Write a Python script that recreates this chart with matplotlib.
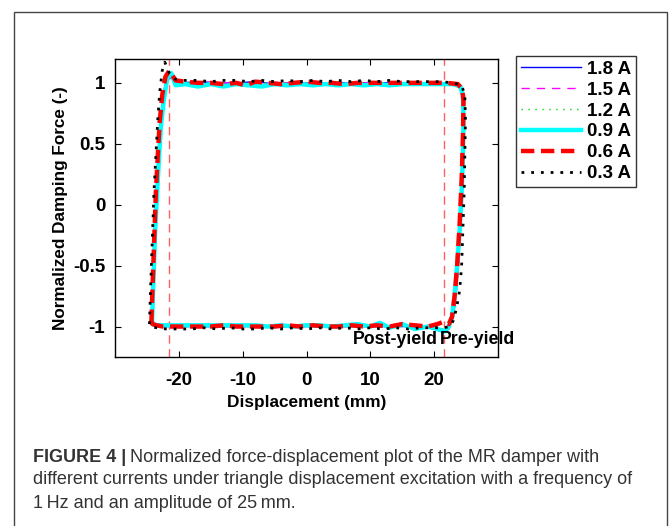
import matplotlib
matplotlib.use("Agg")
import matplotlib.pyplot as plt
from matplotlib.patches import Rectangle

plt.rcParams['font.family'] = ['Liberation Sans', 'DejaVu Sans']
plt.rcParams['axes.unicode_minus'] = False

# ---- data ----
labels = ["1.8 A", "1.5 A", "1.2 A", "0.9 A", "0.6 A", "0.3 A"]

x_18 = [-24.3, -24.2, -24.0, -23.8, -23.5, -23.2, -22.9, -22.4, -21.8, -21.0, -19.5, -17, -14, -11, -8, -5, -2, 1, 4, 7, 10, 13, 16, 19, 21, 23, 24.1, 24.6, 24.6, 24.4, 24.2, 23.9, 23.5, 23.0, 22.3, 21.5, 20.0, 18, 15, 12, 9, 6, 3, 0, -3, -6, -9, -12, -15, -18, -21, -23, -24.0, -24.3]
y_18 = [-0.97, -0.8, -0.5, -0.2, 0.1, 0.4, 0.7, 0.92, 1.06, 1.03, 1.0, 1.01, 1.0, 1.0, 1.01, 0.99, 1.0, 1.0, 1.0, 1.0, 1.0, 1.0, 1.0, 1.0, 1.0, 0.99, 0.97, 0.9, 0.6, 0.2, -0.1, -0.4, -0.7, -0.92, -1.02, -1.05, -1.02, -1.0, -1.0, -1.0, -1.0, -1.0, -1.0, -1.0, -1.0, -1.0, -1.0, -1.0, -1.0, -1.0, -1.0, -1.0, -0.99, -0.97]

x_15 = [-24.3, -24.2, -24.0, -23.8, -23.5, -23.2, -22.9, -22.4, -21.8, -21.0, -19.5, -17, -14, -11, -8, -5, -2, 1, 4, 7, 10, 13, 16, 19, 21, 23, 24.1, 24.6, 24.6, 24.4, 24.2, 23.9, 23.5, 23.0, 22.3, 21.5, 20.0, 18, 15, 12, 9, 6, 3, 0, -3, -6, -9, -12, -15, -18, -21, -23, -24.0, -24.3]
y_15 = [-0.97, -0.8, -0.5, -0.2, 0.1, 0.4, 0.7, 0.92, 1.06, 1.02, 1.0, 1.0, 1.01, 0.99, 1.0, 1.0, 1.0, 1.0, 1.0, 1.0, 1.0, 1.0, 1.0, 1.0, 1.0, 0.99, 0.97, 0.9, 0.6, 0.2, -0.1, -0.4, -0.7, -0.92, -1.0, -1.03, -1.01, -1.0, -0.99, -1.0, -1.0, -1.0, -1.0, -1.0, -1.0, -1.0, -1.0, -1.0, -1.0, -1.0, -1.0, -1.0, -0.99, -0.97]

x_12 = [-24.3, -24.2, -24.0, -23.8, -23.5, -23.2, -22.9, -22.4, -21.8, -21.0, -19.5, -17, -14, -11, -8, -5, -2, 1, 4, 7, 10, 13, 16, 19, 21, 23, 24.1, 24.6, 24.6, 24.4, 24.2, 23.9, 23.5, 23.0, 22.3, 21.5, 20.0, 18, 15, 12, 9, 6, 3, 0, -3, -6, -9, -12, -15, -18, -21, -23, -24.0, -24.3]
y_12 = [-0.97, -0.8, -0.5, -0.2, 0.1, 0.4, 0.7, 0.92, 1.06, 1.03, 1.0, 1.0, 1.0, 1.0, 1.0, 1.0, 1.0, 1.0, 1.0, 1.0, 1.0, 1.0, 1.0, 1.0, 1.0, 0.99, 0.97, 0.9, 0.6, 0.2, -0.1, -0.4, -0.7, -0.92, -1.0, -1.02, -1.0, -1.0, -1.0, -1.0, -1.0, -1.0, -1.0, -1.0, -1.0, -1.0, -1.0, -1.0, -1.0, -1.0, -1.0, -1.0, -0.99, -0.97]

x_09 = [-24.2, -24.1, -23.9, -23.7, -23.4, -23.1, -22.8, -22.3, -21.8, -21.2, -20.5, -19, -17, -15, -13, -11, -9, -7, -5, -3, -1, 1, 3, 5, 7, 9, 11, 13, 15, 17, 19, 21, 23, 24.1, 24.5, 24.6, 24.5, 24.3, 24.0, 23.6, 23.2, 22.8, 22.3, 21.6, 20.5, 19, 17, 15, 13, 11.5, 10, 8, 6, 4, 2, 0, -2, -4, -6, -8, -10, -12, -14, -16, -18, -20, -22, -23.4, -24.1, -24.2]
y_09 = [-0.96, -0.8, -0.5, -0.2, 0.1, 0.4, 0.65, 0.88, 1.04, 1.08, 0.98, 0.99, 0.97, 0.99, 0.97, 0.99, 0.98, 0.97, 0.99, 0.98, 0.99, 0.98, 0.99, 0.98, 0.99, 0.98, 0.99, 0.98, 0.99, 0.99, 0.99, 0.99, 0.99, 0.97, 0.9, 0.7, 0.4, 0.1, -0.2, -0.5, -0.75, -0.92, -1.0, -1.04, -1.02, -1.0, -1.02, -0.98, -1.01, -0.97, -1.0, -0.98, -0.99, -1.0, -0.99, -0.99, -1.0, -0.99, -1.0, -0.99, -0.99, -0.99, -0.99, -0.99, -0.99, -0.99, -0.99, -0.99, -0.98, -0.96]

x_06 = [-24.3, -24.2, -24.0, -23.8, -23.6, -23.3, -23.0, -22.6, -22.1, -21.5, -20.5, -19, -17, -15, -13, -11, -9.5, -8, -6, -4, -2, 0, 2, 4, 6, 8, 10, 12, 14, 16, 18, 20, 22, 23.7, 24.4, 24.6, 24.5, 24.3, 24.0, 23.6, 23.2, 22.8, 22.3, 21.5, 20.5, 19, 17, 15, 13, 11, 9, 7, 5, 3, 1, -1, -3, -5, -7, -9, -11, -13, -15, -17, -19, -21, -22.5, -23.5, -24.1, -24.3]
y_06 = [-0.97, -0.8, -0.5, -0.2, 0.1, 0.4, 0.68, 0.9, 1.05, 1.1, 1.02, 1.01, 1.0, 1.0, 0.99, 1.0, 0.98, 1.01, 1.0, 0.99, 1.0, 1.01, 1.0, 1.0, 0.99, 1.0, 1.0, 1.0, 1.0, 1.0, 1.0, 1.0, 1.0, 0.99, 0.95, 0.85, 0.55, 0.2, -0.15, -0.5, -0.75, -0.92, -0.98, -0.96, -0.98, -1.0, -0.99, -0.98, -1.0, -0.99, -1.0, -0.99, -1.0, -1.0, -0.99, -1.0, -0.99, -1.0, -1.0, -1.0, -1.0, -0.99, -1.0, -1.0, -1.0, -1.0, -1.0, -0.99, -0.98, -0.97]

x_03 = [-24.6, -24.5, -24.3, -24.1, -23.9, -23.6, -23.3, -23.0, -22.6, -22.2, -21.5, -20.5, -19, -17, -15, -13, -11, -9, -7, -5, -3, -1, 1, 3, 5, 7, 9, 11, 13, 15, 17, 19, 21, 23, 24.3, 24.8, 24.9, 24.8, 24.7, 24.5, 24.3, 24.0, 23.5, 23.0, 22.5, 21.5, 20, 18, 16, 14, 12, 10, 8, 6, 4, 2, 0, -2, -4, -6, -8, -10, -12, -14, -16, -18, -20, -22, -23.5, -24.3, -24.6]
y_03 = [-0.98, -0.8, -0.5, -0.2, 0.1, 0.4, 0.7, 0.92, 1.1, 1.17, 1.08, 1.03, 1.02, 1.02, 1.01, 1.02, 1.02, 1.01, 1.02, 1.01, 1.02, 1.01, 1.02, 1.01, 1.02, 1.01, 1.02, 1.01, 1.02, 1.01, 1.01, 1.01, 1.01, 1.0, 0.98, 0.9, 0.7, 0.4, 0.1, -0.2, -0.5, -0.7, -0.85, -0.95, -1.0, -1.01, -1.01, -1.01, -1.02, -1.01, -1.02, -1.01, -1.02, -1.01, -1.02, -1.01, -1.02, -1.01, -1.02, -1.01, -1.02, -1.02, -1.01, -1.02, -1.01, -1.02, -1.02, -1.02, -1.01, -1.0, -0.98]

yield_lines = [-21.5, 21.5]
xticks = [-20, -10, 0, 10, 20]
yticks = [-1, -0.5, 0, 0.5, 1]
ytick_labels = ["-1", "-0.5", "0", "0.5", "1"]

series = [(x_18, y_18), (x_15, y_15), (x_12, y_12), (x_09, y_09), (x_06, y_06), (x_03, y_03)]
styles = [
    dict(color="#0000ff", ls="-", lw=1.0),
    dict(color="#ff00ff", ls=(0, (6, 5)), lw=1.0),
    dict(color="#00dd00", ls=(0, (1, 4)), lw=1.0),
    dict(color="#00ffff", ls="-", lw=3.2),
    dict(color="#ff0000", ls=(0, (3, 1.5)), lw=3.2),
    dict(color="#000000", ls=(0, (1, 2.5)), lw=2.0),
]

fig = plt.figure(figsize=(6.69, 5.26), dpi=100)
fig.patches.append(Rectangle((14/669, -0.05), (667-14)/669, 1.05 - 12/526,
                             transform=fig.transFigure, fill=False,
                             edgecolor="#444444", lw=1.0))

ax = fig.add_axes([115/669, 1-357/526, (498-115)/669, (357-58.5)/526])
for xv in yield_lines:
    ax.axvline(xv, color="#ff6060", ls=(0, (6, 4)), lw=1.0, zorder=1)

handles = []
for (xs, ys), st, lab in zip(series, styles, labels):
    h, = ax.plot(xs, ys, label=lab, solid_joinstyle="round", **st)
    handles.append(h)

ax.set_xlim(-30, 30)
ax.set_ylim(-1.25, 1.2)
ax.set_xticks(xticks)
ax.set_yticks(yticks)
ax.set_yticklabels(ytick_labels)
ax.tick_params(direction="in", top=True, right=True, length=4, width=0.8,
               labelsize=13.5)
ax.tick_params(axis="x", pad=11)
ax.tick_params(axis="y", pad=7)
for lab in ax.get_xticklabels() + ax.get_yticklabels():
    lab.set_fontweight("bold")
for s in ax.spines.values():
    s.set_linewidth(1.0)
ax.set_xlabel("Displacement (mm)", fontsize=12.4, fontweight="bold", labelpad=4)
ax.set_ylabel("Normalized Damping Force (-)", fontsize=12.3, fontweight="bold", labelpad=3.5)

ax.text(13.9, -1.11, "Post-yield", ha="center", va="center", fontsize=12.8, fontweight="bold")
ax.text(26.8, -1.11, "Pre-yield", ha="center", va="center", fontsize=12.8, fontweight="bold")

leg = fig.legend(handles=handles, labels=labels, loc="upper left",
                 bbox_to_anchor=(516/669, 1-56/526), prop=dict(size=13.5, weight="bold"),
                 frameon=True, fancybox=False, edgecolor="black", handlelength=3.2,
                 borderpad=0.25, labelspacing=0.2, handletextpad=0.35, borderaxespad=0)
leg.get_frame().set_linewidth(1.0)

# caption
cap_color = "#333333"
cap_font = ['Liberation Sans', 'DejaVu Sans']
cap_size = 13
t1 = fig.text(33/669, 1-457/526, "FIGURE 4 |", fontsize=cap_size, fontweight="bold",
              color=cap_color, va="center", ha="left", family=cap_font)
fig.canvas.draw()
bb = t1.get_window_extent()
x2 = (bb.x1 + 4) / fig.bbox.width
fig.text(x2, 1-457/526, "Normalized force-displacement plot of the MR damper with",
         fontsize=cap_size, color=cap_color, va="center", ha="left", family=cap_font)
fig.text(33/669, 1-480/526, "different currents under triangle displacement excitation with a frequency of",
         fontsize=cap_size, color=cap_color, va="center", ha="left", family=cap_font)
fig.text(33/669, 1-503/526, "1\u2009Hz and an amplitude of 25\u2009mm.",
         fontsize=cap_size, color=cap_color, va="center", ha="left", family=cap_font)

fig.savefig("out.png", dpi=100)
